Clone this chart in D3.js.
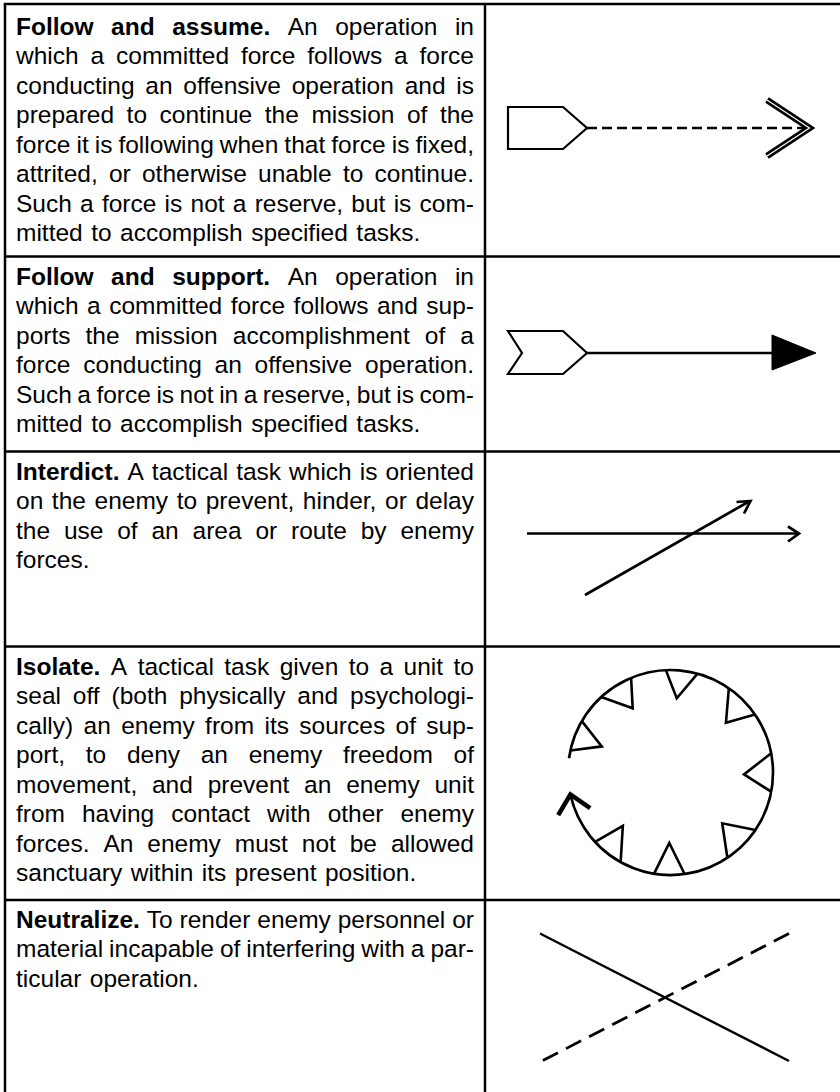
<!DOCTYPE html>
<html><head><meta charset="utf-8">
<script src="https://cdn.jsdelivr.net/npm/d3@7"></script>
<style>html,body{margin:0;padding:0;background:#fff;} svg{display:block;}</style>
</head><body>
<svg id="chart" width="840" height="1092"></svg>
<script>
// ---------------- DATA ----------------
const terms = ["Follow and assume.", "Follow and support.", "Interdict.", "Isolate.", "Neutralize."];
const definitionLines = [
  ["An operation in", "which a committed force follows a force", "conducting an offensive operation and is",
   "prepared to continue the mission of the", "force it is following when that force is fixed,",
   "attrited, or otherwise unable to continue.", "Such a force is not a reserve, but is com-",
   "mitted to accomplish specified tasks."],
  ["An operation in", "which a committed force follows and sup-", "ports the mission accomplishment of a",
   "force conducting an offensive operation.", "Such a force is not in a reserve, but is com-",
   "mitted to accomplish specified tasks."],
  ["A tactical task which is oriented", "on the enemy to prevent, hinder, or delay",
   "the use of an area or route by enemy", "forces."],
  ["A tactical task given to a unit to", "seal off (both physically and psychologi-",
   "cally) an enemy from its sources of sup-", "port, to deny an enemy freedom of",
   "movement, and prevent an enemy unit", "from having contact with other enemy",
   "forces. An enemy must not be allowed", "sanctuary within its present position."],
  ["To render enemy personnel or", "material incapable of interfering with a par-", "ticular operation."]
];
// Isolate symbol teeth on the circle: [base start angle, base end angle, apex angle] in degrees
const isolateTeethAngles = [[267.4,285.3,274.8],[247.4,227.5,239.5],[210.1,192.4,200.8],[304.7,325.5,318.1],
  [349.2,370.8,361.5],[34.1,56.3,44.5],[99.2,82.1,91.0],[137.4,119.1,131.8]];
const isolateTeethDepth = [28,28,29,28,29,30,32,31];
const isolateArcAngles = [188, 527.6]; // circle drawn clockwise, gap on the left

// ---------------- LAYOUT ----------------
const W = 840, H = 1092;
const rowTops = [4, 256.5, 451.5, 646.5, 900];
const firstBaselines = [35, 285, 480, 675, 928];
const lineHeight = 29.45;
const leftX = 5, colX = 485;
const textLeft = 16, textRight = 474;
const fontFamily = "'Liberation Sans', Arial, Helvetica, sans-serif";
const fontSize = 24.5;

const svg = d3.select("#chart");
const line = d3.line();

// --------------- TEXT -----------------
const meas = svg.append("text").attr("font-family", fontFamily).attr("font-size", fontSize)
  .attr("visibility", "hidden");
function measure(str, bold) {
  meas.attr("font-weight", bold ? "bold" : "normal").text(str);
  return meas.node().getComputedTextLength();
}
const spaceW = measure("a a", false) - 2 * measure("a", false);

terms.forEach((term, r) => {
  const lines = definitionLines[r];
  lines.forEach((ln, i) => {
    let tokens = ln.split(" ").map(w => ({ w, bold: false }));
    if (i === 0) tokens = term.split(" ").map(w => ({ w, bold: true })).concat(tokens);
    tokens.forEach(t => t.width = measure(t.w, t.bold));
    const sum = d3.sum(tokens, t => t.width);
    const isLast = i === lines.length - 1;
    const gap = (isLast || tokens.length < 2) ? spaceW * 1.25 : (textRight - textLeft - sum) / (tokens.length - 1);
    let x = textLeft;
    const y = firstBaselines[r] + i * lineHeight;
    const txt = svg.append("text").attr("font-family", fontFamily).attr("font-size", fontSize)
      .attr("fill", "#000").attr("y", y);
    tokens.forEach(t => {
      txt.append("tspan").attr("x", x).attr("font-weight", t.bold ? "bold" : "normal").text(t.w);
      x += t.width + gap;
    });
  });
});

// --------------- GRID -----------------
const grid = svg.append("g").attr("stroke", "#000").attr("stroke-width", 2.5).attr("fill", "none");
grid.append("line").attr("x1", leftX - 1.25).attr("x2", W).attr("y1", rowTops[0]).attr("y2", rowTops[0]);
rowTops.slice(1).forEach(y => grid.append("line").attr("x1", leftX).attr("x2", W).attr("y1", y).attr("y2", y));
grid.append("line").attr("x1", leftX).attr("x2", leftX).attr("y1", rowTops[0]).attr("y2", H);
grid.append("line").attr("x1", colX).attr("x2", colX).attr("y1", rowTops[0]).attr("y2", H);

// --------------- SYMBOLS --------------
const sym = svg.append("g").attr("fill", "none").attr("stroke", "#000").attr("stroke-linejoin", "miter");

// 1. Follow and assume
sym.append("path").attr("d", line([[508,107],[563,107],[587,128],[563,149],[508,149]]) + "Z").attr("stroke-width", 2.2);
sym.append("path").attr("d", line([[587,128],[811,128]])).attr("stroke-width", 2.7).attr("stroke-dasharray", "10,5");
sym.append("path").attr("d", line([[767,100],[809.5,128],[767,156]])).attr("stroke-width", 6.5);
sym.append("path").attr("d", line([[767,100],[809.5,128],[767,156]])).attr("stroke-width", 1.2).attr("stroke", "#fff");

// 2. Follow and support
sym.append("path").attr("d", line([[508,331],[563,331],[587,353],[563,374],[508,374],[522,353]]) + "Z").attr("stroke-width", 2.2);
sym.append("path").attr("d", line([[587,353],[775,353]])).attr("stroke-width", 2.7);
sym.append("path").attr("d", line([[772,335],[816,353],[772,370]]) + "Z").attr("fill", "#000").attr("stroke-width", 1);

// 3. Interdict
sym.append("path").attr("d", line([[527,533.5],[798,533.5]])).attr("stroke-width", 2.7);
sym.append("path").attr("d", line([[788,526.5],[799,533.5],[788,541.5]])).attr("stroke-width", 2.7);
sym.append("path").attr("d", line([[585,595],[749,501.5]])).attr("stroke-width", 2.7);
sym.append("path").attr("d", line([[736.5,502],[750.5,501],[744,513.5]])).attr("stroke-width", 2.7);

// 4. Isolate
const cx = 670.5, cy = 772.5, rad = 102.5;
const rd = d => d * Math.PI / 180;
const pt = (a, rr) => [cx + rr * Math.cos(rd(a)), cy + rr * Math.sin(rd(a))];
const arcPath = d3.path();
arcPath.arc(cx, cy, rad, rd(isolateArcAngles[0]), rd(isolateArcAngles[1]), false);
sym.append("path").attr("d", arcPath.toString()).attr("stroke-width", 2.7);
isolateTeethAngles.forEach((t, i) => {
  sym.append("path").attr("d", line([pt(t[0], rad), pt(t[2], rad - isolateTeethDepth[i]), pt(t[1], rad)]))
    .attr("stroke-width", 2.6);
});
{
  const a = rd(isolateArcAngles[1]);
  const tip = pt(isolateArcAngles[1], rad);
  const back = Math.atan2(-Math.cos(a), Math.sin(a)); // opposite of tangent direction
  const L = 24, al = rd(43);
  const p1 = [tip[0] + L * Math.cos(back + al), tip[1] + L * Math.sin(back + al)];
  const p2 = [tip[0] + L * Math.cos(back - al), tip[1] + L * Math.sin(back - al)];
  sym.append("path").attr("d", line([p1, tip, p2])).attr("stroke-width", 4.5);
}

// 5. Neutralize
sym.append("path").attr("d", line([[540,933.5],[789,1061]])).attr("stroke-width", 2.4);
sym.append("path").attr("d", line([[789,933.5],[542,1061]])).attr("stroke-width", 2.8).attr("stroke-dasharray", "17,9");
</script>
</body></html>
